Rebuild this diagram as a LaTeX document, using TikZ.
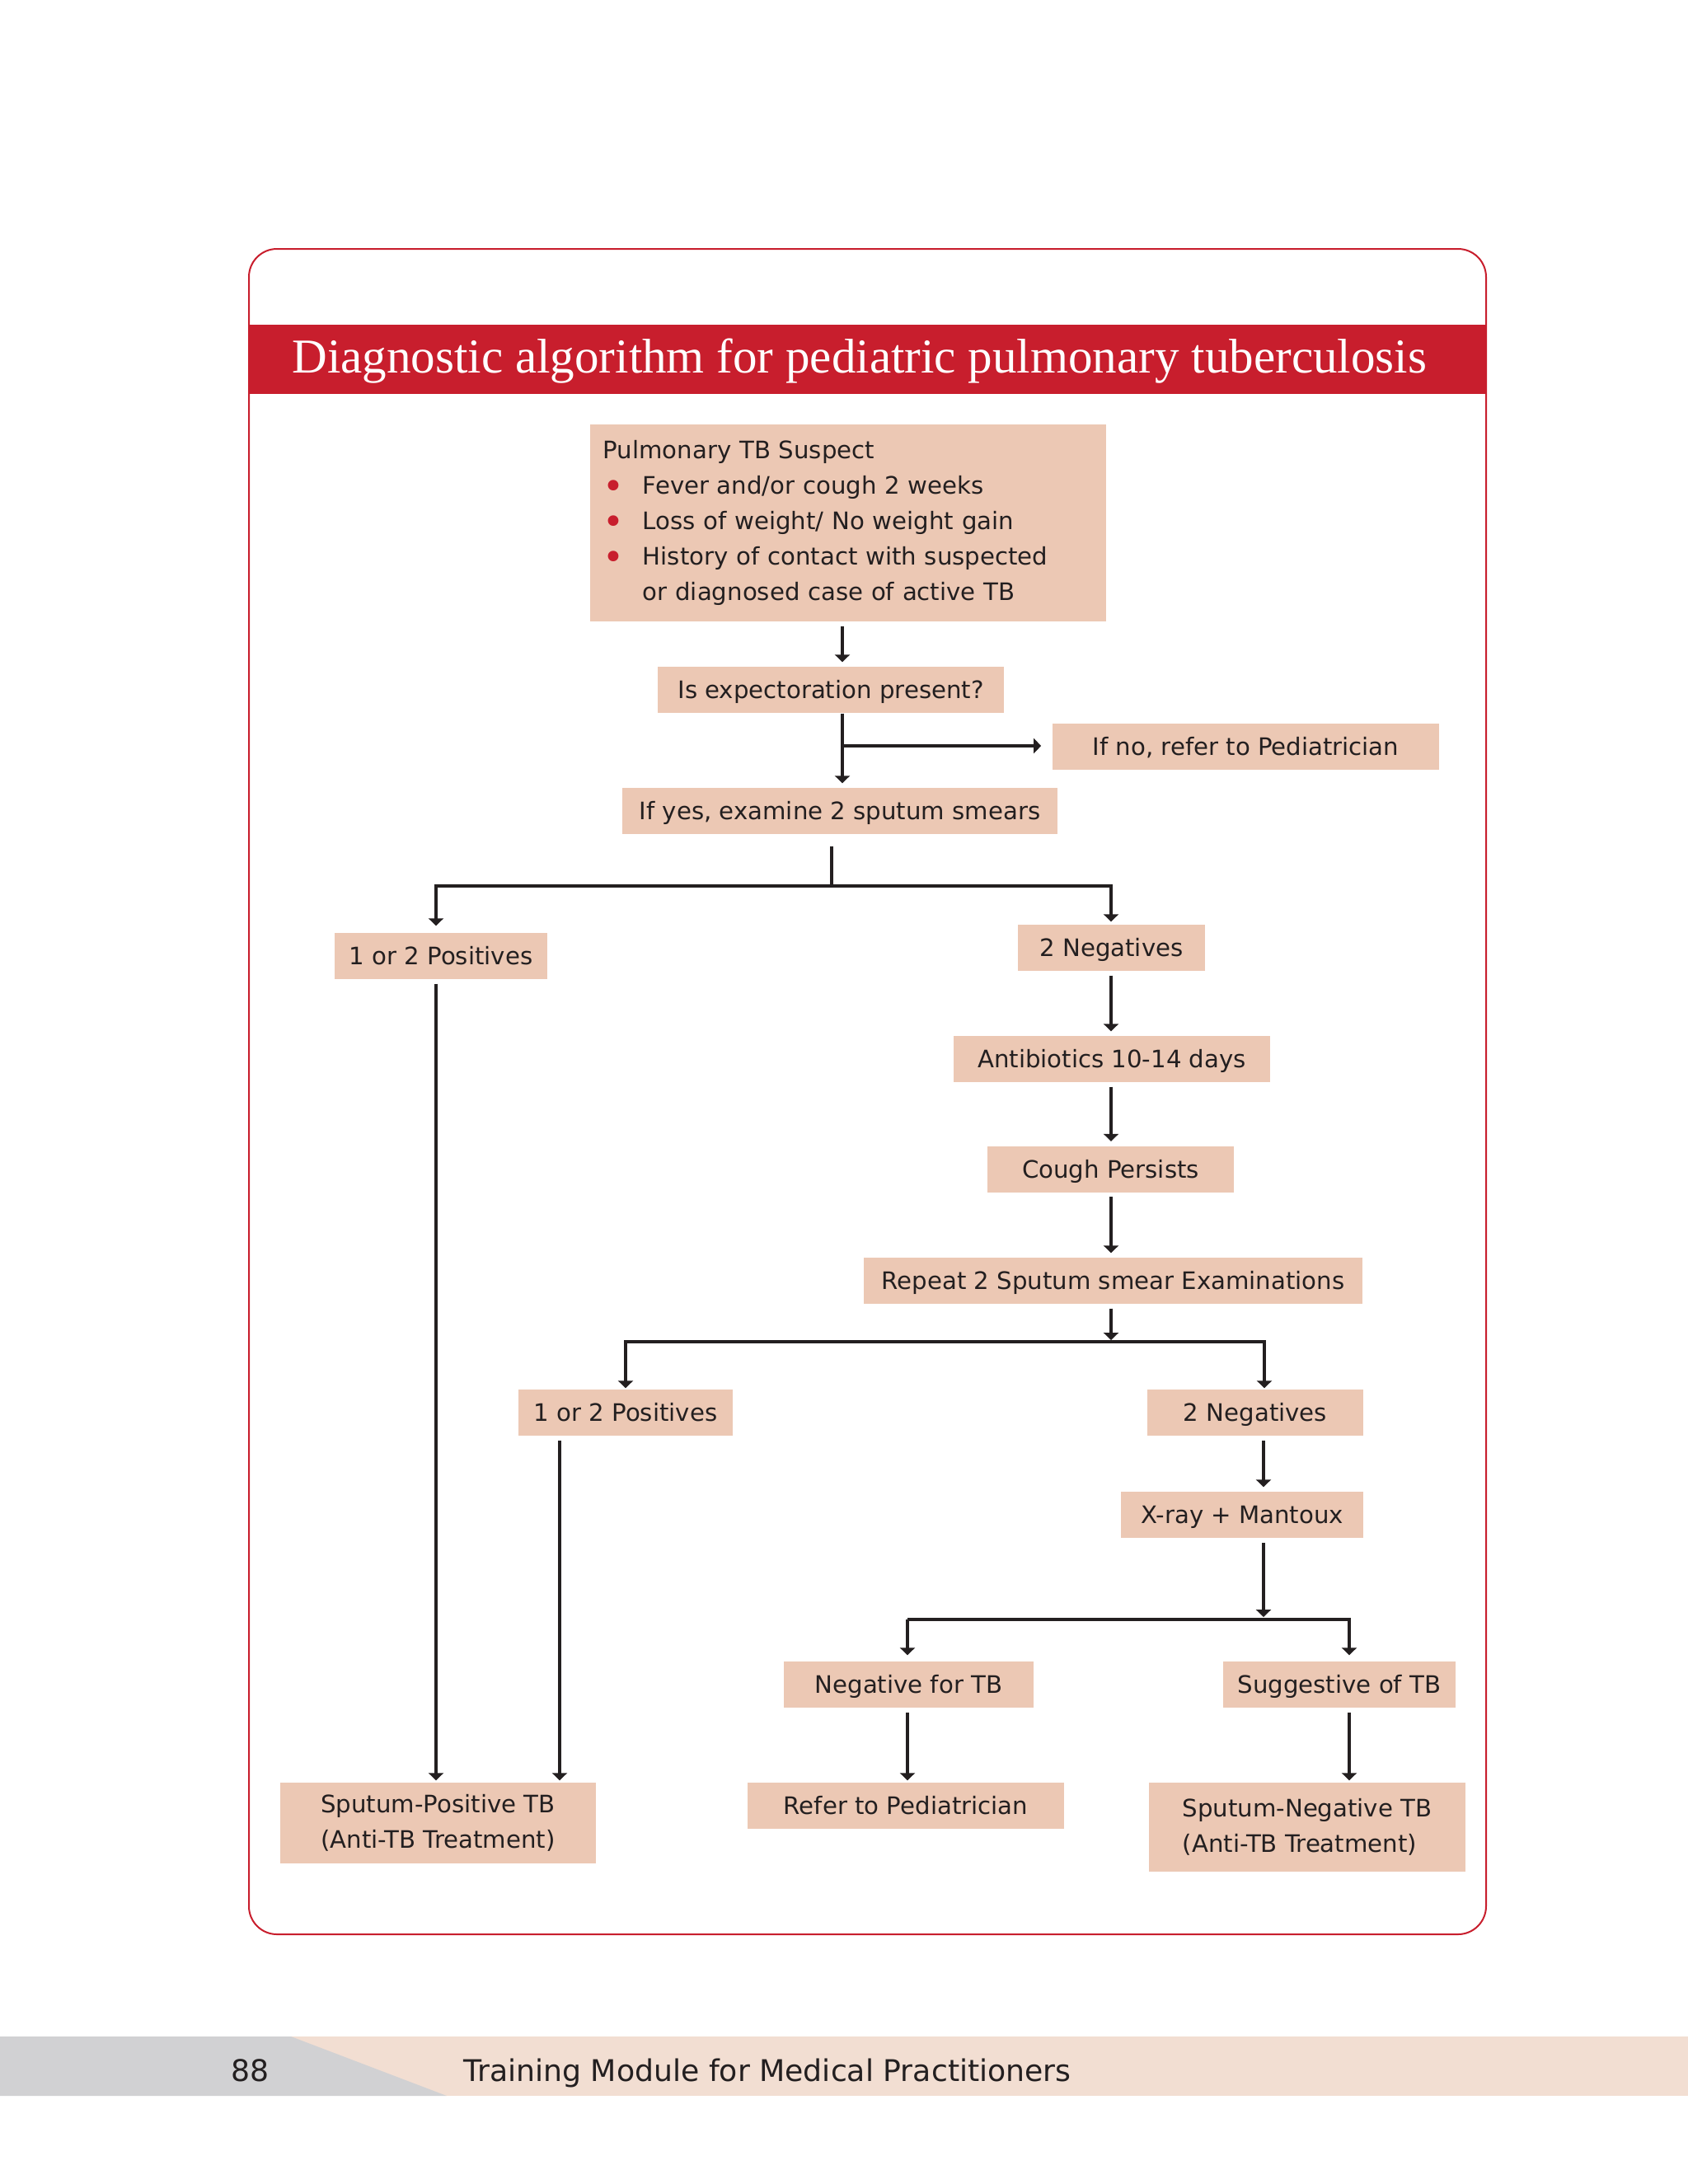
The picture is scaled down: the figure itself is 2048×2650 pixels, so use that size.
\documentclass[tikz,border=0pt]{standalone}
\usepackage{fontspec}
\setmainfont{DejaVu Sans}
\newfontfamily\fuentetitulo{Liberation Serif}
\usepackage{tikz}
\usetikzlibrary{arrows.meta}
\usetikzlibrary{calc}

\definecolor{rojotb}{RGB}{200,30,45}
\definecolor{cajatb}{RGB}{236,200,180}
\definecolor{lineatb}{RGB}{35,31,32}
\definecolor{grispie}{RGB}{209,209,211}
\definecolor{rosapie}{RGB}{242,222,210}

% viñeta roja de la lista
\newcommand{\vineta}{\makebox[0.48cm][l]{\raisebox{-0.06cm}{\textcolor{rojotb}{\fontsize{12.5}{12}\selectfont •}}}}

\begin{document}
\begin{tikzpicture}[
        x=0.01cm, y=-0.01cm, % un pixel de la página
        font=\fontsize{8.3}{12.2}\selectfont, % letra de las cajas
        caja/.style={fill=cajatb, text=lineatb, inner sep=0pt,
        minimum height=0.56cm, text height=0.213cm, text depth=0pt}, % cajas de una línea
        cajados/.style={fill=cajatb, text=lineatb, inner sep=0pt, align=left}, % cajas de varias líneas
        flecha/.style={-{Triangle[length=0.09cm,width=0.18cm]}, line width=0.04cm, lineatb,
        shorten <=0.05cm, shorten >=0.05cm}, % conectores
        rama/.style={line width=0.045cm, lineatb}, % líneas de reparto
    ]
        \useasboundingbox (0,0) rectangle (2048,2650);

        % --- Marco y banda del título ---
        \draw[rojotb, line width=0.02cm, rounded corners=0.34cm] (302,302) rectangle (1803,2347);
        \fill[rojotb] (302,394) rectangle (1803,478);
        \node[anchor=base west, text=white, font=\fuentetitulo\fontsize{16.8}{18}\selectfont]
            (titulo) at (342,452) {Diagnostic algorithm for pediatric pulmonary tuberculosis};

        % --- Pie de página ---
        \fill[rosapie] (0,2471) rectangle (2048,2543);
        \fill[grispie] (0,2471) -- (353,2471) -- (542,2543) -- (0,2543) -- cycle;
        \node[anchor=base, text=lineatb, font=\fontsize{10.3}{12}\selectfont] (pagina) at (304,2525) {88};
        \node[anchor=base west, text=lineatb, font=\fontsize{10.3}{12}\selectfont]
            (modulo) at (550,2525) {Training Module for Medical Practitioners};

        % --- Cajas ---
        \node[cajados, minimum width=6.26cm, minimum height=2.39cm, text width=5.94cm]
            (sospecha) at (1029,634.5) {Pulmonary TB Suspect\\
            \vineta Fever and/or cough 2 weeks\\
            \vineta Loss of weight/ No weight gain\\
            \vineta History of contact with suspected\\
            \hspace*{0.48cm}or diagnosed case of active TB};
        \node[caja, minimum width=4.20cm] (expecto) at (1008,837) {Is expectoration present?};
        \node[caja, minimum width=4.69cm] (sino) at (1511.5,905.5) {If no, refer to Pediatrician};
        \node[caja, minimum width=5.28cm] (sisi) at (1019,984) {If yes, examine 2 sputum smears};
        \node[caja, minimum width=2.58cm] (posuno) at (535,1160) {1 or 2 Positives};
        \node[caja, minimum width=2.27cm] (neguno) at (1348.5,1150) {2 Negatives};
        \node[caja, minimum width=3.84cm] (antibio) at (1349,1285) {Antibiotics 10-14 days};
        \node[caja, minimum width=2.99cm] (tos) at (1347.5,1418.5) {Cough Persists};
        \node[caja, minimum width=6.05cm] (repite) at (1350.5,1554) {Repeat 2 Sputum smear Examinations};
        \node[caja, minimum width=2.60cm] (posdos) at (759,1714) {1 or 2 Positives};
        \node[caja, minimum width=2.62cm] (negdos) at (1523,1714) {2 Negatives};
        \node[caja, minimum width=2.94cm] (rayosx) at (1507,1838) {X-ray + Mantoux};
        \node[caja, minimum width=3.03cm] (negtb) at (1102.5,2044) {Negative for TB};
        \node[caja, minimum width=2.82cm] (sugiere) at (1625,2044) {Suggestive of TB};
        \node[cajados, minimum width=3.83cm, minimum height=0.98cm] (sppos) at (531.5,2212)
            {Sputum-Positive TB\\(Anti-TB Treatment)};
        \node[caja, minimum width=3.84cm] (pediatra) at (1099,2191) {Refer to Pediatrician};
        \node[cajados, minimum width=3.84cm, minimum height=1.08cm] (spneg) at (1586,2217)
            {Sputum-Negative TB\\(Anti-TB Treatment)};

        % --- Puntos de reparto ---
        \coordinate (tronco) at (1022,905);
        \coordinate (reparto1) at (1009,1075);
        \coordinate (columna) at (1348,1200);
        \coordinate (reparto2) at (1348,1628);
        \coordinate (ramader2) at (1534,1628);
        \coordinate (reparto3) at (1533,1965);
        \coordinate (ramaizq3) at (1101,1965);
        \coordinate (ramader3) at (1637,1965);
        \coordinate (bajada1) at (529,1965);
        \coordinate (bajada2) at (679,1965);

        % --- Conectores ---
        \draw[flecha] (sospecha.south -| tronco) -- (expecto.north -| tronco);
        \draw[flecha, shorten <=0pt] (expecto.south -| tronco) -- (sisi.north -| tronco);
        \draw[flecha, line width=0.045cm, shorten <=0pt, shorten >=0.13cm] (tronco) -- (sino.west |- tronco);

        \draw[rama, shorten <=0.14cm] (sisi.south -| reparto1) -- (reparto1);
        \draw[flecha, shorten <=0pt, shorten >=0.08cm] (reparto1) -| (posuno.north -| bajada1);
        \draw[flecha, shorten <=0pt, shorten >=0.03cm] (reparto1) -| (neguno.north -| columna);
        \draw[flecha] (neguno.south -| columna) -- (antibio.north -| columna);
        \draw[flecha] (antibio.south -| columna) -- (tos.north -| columna);
        \draw[flecha] (tos.south -| columna) -- (repite.north -| columna);
        \draw[flecha, shorten >=0.02cm] (repite.south -| reparto2) -- (reparto2);
        \draw[flecha, shorten <=0pt, shorten >=0.01cm] (reparto2) -| (posdos.north);
        \draw[flecha, shorten <=0pt, shorten >=0.01cm] (reparto2) -- (ramader2) -- (negdos.north -| ramader2);
        \draw[flecha] (negdos.south -| reparto3) -- (rayosx.north -| reparto3);
        \draw[flecha, shorten >=0.03cm] (rayosx.south -| reparto3) -- (reparto3);
        \draw[flecha, shorten <=0pt, shorten >=0.07cm] (ramaizq3) -- (ramader3) -- (sugiere.north -| ramader3);
        \draw[flecha, shorten <=0pt, shorten >=0.07cm] (ramaizq3) -- (negtb.north -| ramaizq3);
        \draw[flecha, shorten >=0.02cm] (negtb.south -| ramaizq3) -- (pediatra.north -| ramaizq3);
        \draw[flecha, shorten >=0.02cm] (sugiere.south -| ramader3) -- (spneg.north -| ramader3);
        \draw[flecha, shorten >=0.02cm] (posuno.south -| bajada1) -- (sppos.north -| bajada1);
        \draw[flecha, shorten >=0.02cm] (posdos.south -| bajada2) -- (sppos.north -| bajada2);
    \end{tikzpicture}
\end{document}
